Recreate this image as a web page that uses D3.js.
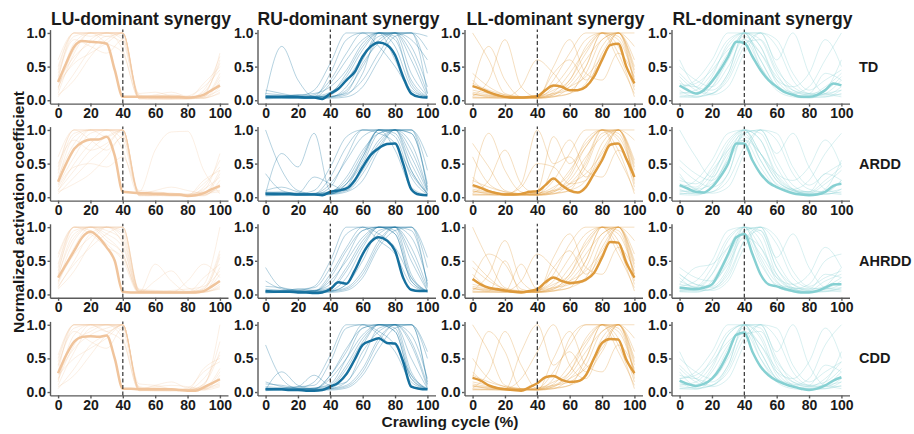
<!DOCTYPE html>
<html lang="en">
<head>
<meta charset="utf-8" />
<title>Normalized activation coefficient of synergies</title>
<style>
html, body { margin: 0; padding: 0; background: #fff; }
svg text { font-family: "Liberation Sans", Arial, sans-serif; font-weight: bold; fill: #1a1a1a; }
.axis path, .axis line { stroke: #5a5a5a; stroke-width: 1.4; }
.axis text { font-size: 14px; }
</style>
</head>
<body>
<svg id="chart" width="914" height="434"></svg>
<script src="https://cdnjs.cloudflare.com/ajax/libs/d3/7.8.5/d3.min.js"></script>
<script>

// crawling cycle (%) sample points
var cycleMean  = [0,5,10,15,20,25,30,35,40,45,50,55,60,65,70,75,80,85,90,95,100];
var cycleTrial = [0,10,20,30,40,50,60,70,80,90,100];
var xTicks = [0,20,40,60,80,100];
var yTicks = [0,50,100];
var phaseSplit = 40;

var synergies = ["LU-dominant synergy", "RU-dominant synergy", "LL-dominant synergy", "RL-dominant synergy"];
var groups = ["TD", "ARDD", "AHRDD", "CDD"];
var synergyColors = ["#F0C49C", "#16709E", "#DE9A3C", "#86D0D2"];

// activation coefficient x100
// ---- mean curves (every 5 %)
var meanLU_TD    = [27,55,80,88,87,86,84,45,5,5,5,5,5,5,5,5,4,5,8,15,22];
var meanLU_ARDD  = [23,50,72,82,86,86,90,62,8,7,6,6,5,5,4,4,2,3,6,12,17];
var meanLU_AHRDD = [25,45,65,85,93,85,70,50,4,3,3,3,3,3,3,3,3,3,5,12,20];
var meanLU_CDD   = [28,55,75,82,83,82,84,50,5,5,4,4,4,4,4,3,2,2,7,13,19];

var meanRU_TD    = [5,5,5,5,5,4,4,2,10,17,30,42,65,80,86,82,67,35,10,5,4];
var meanRU_ARDD  = [5,5,5,5,4,4,4,3,8,10,13,25,45,63,73,79,80,50,12,4,3];
var meanRU_AHRDD = [5,4,4,4,3,3,2,3,8,18,16,35,60,78,85,80,65,25,7,5,5];
var meanRU_CDD   = [4,4,4,3,3,2,2,3,8,14,27,48,70,76,80,73,72,45,8,5,4];

var meanLL_TD    = [21,17,12,8,5,4,4,5,6,15,22,20,15,15,20,35,60,82,84,50,25];
var meanLL_ARDD  = [18,14,9,6,4,4,5,8,9,18,28,18,10,7,15,35,55,78,80,57,30];
var meanLL_AHRDD = [23,15,10,8,6,4,3,5,8,18,25,20,17,18,22,32,55,78,77,47,25];
var meanLL_CDD   = [21,17,10,6,4,3,2,7,13,22,24,18,15,16,25,50,73,79,78,48,28];

var meanRL_TD    = [22,15,10,15,28,45,65,87,85,65,45,30,20,12,8,5,5,8,15,25,22];
var meanRL_ARDD  = [18,13,8,7,15,30,50,80,80,55,35,22,15,10,6,4,3,4,8,17,20];
var meanRL_AHRDD = [10,9,8,10,15,35,60,85,90,60,30,15,12,8,5,3,3,5,10,15,15];
var meanRL_CDD   = [17,12,9,12,20,35,58,85,88,60,38,25,17,12,8,5,3,5,10,17,22];

// ---- single-trial curves (every 10 %)
var trialsLU_TD = [
  [30,100,100,100,100,3,2,2,2,5,40], [10,70,100,100,90,5,4,3,3,8,70],
  [45,100,100,95,100,2,3,5,3,3,20], [20,60,90,100,100,8,5,4,4,12,55],
  [5,40,75,95,85,4,6,8,5,4,10], [60,100,100,100,75,3,2,2,2,15,65],
  [15,85,100,100,100,6,3,3,3,3,30], [35,90,80,70,90,10,12,6,4,8,25],
  [25,55,70,85,100,4,4,3,6,20,45], [50,100,95,100,100,2,2,2,2,5,15],
  [8,30,65,90,100,5,8,12,6,6,35], [40,95,100,85,70,3,5,4,3,10,60],
  [18,75,100,100,95,7,3,2,4,3,12], [28,65,85,100,100,4,6,5,3,25,50]
];
var trialsLU_ARDD = [
  [25,90,100,100,100,4,3,3,2,6,40], [10,50,80,100,100,6,5,4,3,10,65],
  [40,100,100,90,100,3,4,3,3,4,15], [5,30,55,75,100,8,6,5,4,12,30],
  [20,70,100,100,95,5,3,2,2,3,20], [60,100,85,70,90,2,3,6,4,20,45],
  [15,45,50,45,60,10,8,6,5,8,10], [30,80,100,100,100,3,2,3,3,5,35],
  [8,20,35,60,90,5,10,15,10,6,8], [45,100,100,100,85,4,3,2,2,2,25],
  [10,40,70,90,100,8,70,97,98,40,5], [35,95,100,100,70,3,4,4,3,15,55],
  [18,60,95,100,100,6,4,3,2,3,18], [50,85,70,80,100,5,6,4,3,25,40]
];
var trialsLU_AHRDD = [
  [30,100,100,90,70,4,3,2,2,5,30], [15,70,100,100,95,6,4,3,3,8,55],
  [45,100,100,80,60,3,20,35,10,4,15], [10,50,90,100,100,5,5,4,4,15,100],
  [25,90,100,100,85,4,3,3,20,45,25], [55,100,95,75,50,2,2,2,2,3,10],
  [20,60,85,100,100,8,6,5,5,6,40], [35,95,100,95,80,3,45,20,4,5,20],
  [8,35,75,100,100,6,4,3,3,10,65], [40,100,100,85,60,4,3,2,2,3,12],
  [18,80,100,100,90,5,4,6,8,12,35], [60,100,90,70,55,3,3,3,3,25,45],
  [12,45,70,90,100,7,5,4,3,4,8], [28,85,100,100,75,4,3,3,3,8,60]
];
var trialsLU_CDD = [
  [30,100,100,100,100,3,2,2,2,5,35], [10,60,95,100,100,5,6,5,3,10,100],
  [45,100,100,90,100,2,3,4,3,4,15], [20,75,90,100,95,8,5,4,4,20,55],
  [5,35,70,85,100,4,10,15,6,5,10], [55,100,100,100,80,3,2,2,2,12,75],
  [15,85,100,100,100,6,3,3,3,3,25], [38,90,75,65,95,12,10,5,4,8,20],
  [25,50,65,80,100,4,4,3,6,30,45], [50,100,100,100,90,2,2,2,2,6,12],
  [8,25,55,85,100,6,8,10,8,5,30], [40,95,100,90,75,3,5,4,3,12,60],
  [18,70,100,100,100,7,3,2,4,3,8], [28,65,85,95,100,4,6,5,3,35,50]
];

var trialsRU_TD = [
  [5,3,3,4,10,40,80,100,100,60,5], [8,80,30,5,5,20,60,100,90,30,5],
  [3,4,5,8,30,70,100,100,100,100,75], [6,5,4,3,5,15,50,90,100,70,10],
  [4,6,8,10,20,45,85,100,80,20,4], [10,8,5,4,6,10,30,70,100,100,95],
  [3,3,4,5,40,90,100,100,60,10,3], [5,4,3,3,4,8,40,100,100,80,20],
  [15,10,6,5,8,30,65,95,100,40,6], [4,5,6,15,55,100,100,80,50,15,5],
  [6,4,3,3,3,5,20,60,95,100,40], [2,3,3,4,25,60,90,100,100,90,60],
  [7,6,5,6,12,35,75,100,95,25,5], [3,5,8,6,5,12,55,85,100,100,10]
];
var trialsRU_ARDD = [
  [100,40,10,5,5,20,60,100,100,40,5], [5,65,45,95,10,20,50,95,100,50,5],
  [4,5,6,4,5,15,60,100,100,95,15], [6,4,3,5,20,55,90,100,90,30,4],
  [3,3,4,6,8,30,70,95,100,80,10], [8,6,5,4,5,10,40,80,100,100,40],
  [3,4,5,10,45,90,100,100,70,15,3], [5,5,4,3,4,8,25,70,100,95,20],
  [10,15,8,5,8,25,65,100,95,40,6], [4,3,3,4,15,60,100,100,100,100,60],
  [6,5,5,5,6,12,45,85,100,60,8], [2,3,4,5,30,75,100,95,80,35,5],
  [7,8,6,30,20,10,35,75,100,100,12], [35,10,5,4,5,20,55,100,100,70,10]
];
var trialsRU_AHRDD = [
  [40,10,5,4,6,25,70,100,100,50,5], [5,4,5,5,30,70,100,100,90,20,4],
  [3,3,4,6,15,55,95,100,100,60,6], [6,5,4,3,5,15,50,95,100,95,15],
  [4,6,8,10,40,90,100,80,60,15,4], [8,6,5,4,5,10,35,80,100,100,40],
  [3,3,4,5,20,50,85,100,100,30,3], [5,4,3,3,4,8,30,75,100,85,20],
  [12,10,6,5,8,35,75,100,90,20,5], [4,5,6,12,50,100,100,90,70,25,5],
  [6,4,3,3,3,6,25,70,95,100,55], [2,3,3,4,25,65,95,100,100,70,10],
  [20,8,5,6,10,40,80,100,95,25,5], [3,5,8,6,5,15,60,90,100,100,12]
];
var trialsRU_CDD = [
  [70,20,5,4,6,25,70,100,100,50,5], [5,4,5,5,25,60,100,100,90,20,4],
  [3,3,4,6,12,50,95,100,100,70,6], [6,5,4,3,5,15,50,95,100,100,15],
  [4,6,8,10,45,95,100,85,60,15,4], [8,6,5,4,5,10,35,80,100,100,60],
  [3,30,10,5,20,50,85,100,100,30,3], [5,4,3,3,4,8,30,75,100,85,20],
  [12,10,6,5,8,35,75,100,90,20,5], [4,5,6,15,55,100,100,90,70,25,5],
  [6,4,3,3,3,6,25,65,95,100,50], [2,3,3,4,25,65,95,100,100,75,10],
  [15,8,5,6,10,40,80,100,95,25,5], [3,5,8,25,10,15,60,90,100,100,12]
];

var trialsLL_TD = [
  [100,60,10,5,3,5,20,50,100,90,30], [20,80,30,5,4,8,30,70,100,100,60],
  [10,5,4,3,5,40,60,30,60,100,40], [5,4,3,4,6,10,15,40,90,100,20],
  [30,10,5,3,4,20,50,90,100,60,10], [8,6,5,20,60,40,15,20,70,100,80],
  [15,10,4,3,3,5,10,25,80,100,50], [4,3,3,3,5,30,70,100,100,80,15],
  [25,15,8,5,4,6,10,50,100,95,25], [6,30,90,20,5,10,25,60,90,100,100],
  [12,8,6,4,3,50,90,40,30,70,35], [3,4,5,5,6,15,30,80,100,70,5],
  [40,20,8,4,3,8,20,35,65,100,45], [9,7,5,4,4,12,40,75,100,100,30]
];
var trialsLL_ARDD = [
  [80,45,10,5,3,5,20,50,100,90,30], [20,95,40,8,4,8,30,75,100,100,55],
  [10,5,4,20,100,50,60,30,60,100,40], [5,4,3,4,6,10,15,45,95,100,20],
  [30,10,5,3,10,90,50,80,100,60,10], [8,6,5,15,50,45,20,25,70,100,85],
  [15,10,4,3,3,5,10,25,80,100,50], [4,3,3,3,5,25,65,100,100,85,15],
  [25,15,8,5,4,6,10,55,100,95,25], [6,25,70,20,5,10,25,60,90,100,100],
  [12,8,6,4,3,45,85,40,30,70,35], [3,4,5,5,6,15,35,85,100,70,5],
  [60,20,8,4,3,8,20,35,65,100,45], [9,7,5,4,4,12,40,75,100,100,30]
];
var trialsLL_AHRDD = [
  [100,50,10,5,3,5,20,50,100,90,30], [20,60,45,8,4,8,30,70,100,100,60],
  [10,5,50,3,5,40,65,30,60,100,40], [5,4,3,4,6,10,15,40,90,100,20],
  [30,10,5,45,8,20,55,90,100,60,10], [8,6,5,20,60,40,15,20,70,100,80],
  [15,10,4,3,3,5,10,25,80,100,50], [4,3,3,3,5,30,75,100,100,80,15],
  [50,25,8,5,4,6,10,50,100,95,25], [6,30,80,20,5,10,25,60,90,100,100],
  [12,8,6,4,3,55,90,40,30,70,35], [3,4,5,5,6,15,30,80,100,70,5],
  [40,20,8,4,3,8,20,35,65,100,45], [9,7,5,4,4,12,40,75,100,100,30]
];
var trialsLL_CDD = [
  [100,60,10,5,3,5,20,50,100,90,30], [20,90,60,5,4,8,30,70,100,100,60],
  [10,5,4,60,100,40,60,30,60,100,40], [5,4,3,4,6,10,15,40,90,100,20],
  [30,10,5,3,4,20,80,100,100,60,10], [8,6,5,20,60,100,40,20,70,100,80],
  [15,10,4,3,3,5,10,25,80,100,50], [4,3,3,3,5,30,70,100,100,80,15],
  [25,15,8,5,4,6,10,50,100,95,25], [6,30,90,40,5,10,25,60,90,100,100],
  [12,8,6,4,3,50,90,40,30,70,35], [3,4,5,5,6,15,30,80,100,70,5],
  [50,20,8,4,3,8,20,35,65,100,45], [9,7,5,4,4,12,40,75,100,100,30]
];

var trialsRL_TD = [
  [20,30,60,100,100,60,20,8,5,10,30], [10,15,40,80,100,90,40,10,4,5,15],
  [30,10,20,60,100,100,50,15,8,20,40], [5,8,30,70,95,70,30,20,40,90,50],
  [40,20,15,40,100,80,30,10,5,5,10], [15,5,10,30,80,100,80,30,10,8,20],
  [25,20,50,90,100,50,15,5,3,15,60], [8,6,10,40,100,100,60,100,40,10,8],
  [50,30,20,50,90,70,35,15,10,40,30], [12,10,35,85,100,80,25,8,6,8,5],
  [35,15,8,20,70,100,90,40,15,30,45], [5,4,20,65,100,60,20,10,20,60,100],
  [20,25,45,75,90,50,20,12,8,10,15], [60,20,10,35,85,90,45,20,10,15,35]
];
var trialsRL_ARDD = [
  [15,25,55,95,100,65,25,10,5,8,25], [8,12,35,75,100,95,45,12,4,4,12],
  [35,12,20,55,95,100,55,18,8,25,45], [5,8,25,65,90,65,35,25,45,85,45],
  [45,25,15,35,100,85,35,12,5,5,8], [12,5,8,25,75,100,85,35,12,8,25],
  [20,15,45,85,100,55,18,6,3,12,55], [6,5,8,35,95,100,65,95,45,12,6],
  [55,35,25,55,85,65,30,12,8,35,25], [10,8,30,80,100,85,30,10,6,6,4],
  [30,12,6,15,65,100,95,45,18,35,50], [4,3,15,60,100,65,25,12,25,65,95],
  [100,60,30,70,95,55,20,10,8,8,12], [25,20,40,70,85,45,15,8,6,20,40]
];
var trialsRL_AHRDD = [
  [12,20,50,95,100,70,25,8,4,8,20], [6,10,30,70,100,95,40,10,3,4,10],
  [25,10,15,50,95,100,50,15,6,20,30], [5,6,20,60,90,60,25,15,30,70,40],
  [30,15,12,40,100,90,30,8,4,5,8], [10,5,8,25,80,100,75,25,10,8,15],
  [15,12,40,85,100,50,12,4,3,12,40], [5,5,8,35,95,100,55,90,40,10,6],
  [40,25,20,45,85,70,30,10,8,30,25], [8,8,30,80,100,80,20,6,5,5,4],
  [20,10,6,20,70,100,85,35,12,25,35], [4,3,15,55,100,55,18,8,15,50,60],
  [15,40,45,70,90,45,15,10,6,8,10], [30,15,10,30,80,95,40,15,8,12,25]
];
var trialsRL_CDD = [
  [20,30,60,100,100,60,20,8,5,10,30], [10,15,40,85,100,95,40,10,4,5,15],
  [30,10,20,60,100,100,50,15,8,20,45], [5,8,30,70,95,70,30,20,45,95,50],
  [40,20,15,40,100,85,30,10,5,5,10], [15,5,10,30,80,100,80,30,10,8,20],
  [25,20,50,90,100,50,15,5,3,15,60], [8,6,10,40,100,100,60,100,40,10,8],
  [50,30,20,50,90,70,35,15,10,40,30], [12,10,35,85,100,80,25,8,6,8,5],
  [35,15,8,20,70,100,95,40,15,30,45], [5,4,20,65,100,60,20,10,20,70,100],
  [20,25,45,75,90,50,20,12,8,10,15], [60,20,10,35,85,90,45,20,10,15,35]
];

// rows = groups, cols = synergies
var meanTable = [
  [meanLU_TD, meanRU_TD, meanLL_TD, meanRL_TD],
  [meanLU_ARDD, meanRU_ARDD, meanLL_ARDD, meanRL_ARDD],
  [meanLU_AHRDD, meanRU_AHRDD, meanLL_AHRDD, meanRL_AHRDD],
  [meanLU_CDD, meanRU_CDD, meanLL_CDD, meanRL_CDD]
];
var trialTable = [
  [trialsLU_TD, trialsRU_TD, trialsLL_TD, trialsRL_TD],
  [trialsLU_ARDD, trialsRU_ARDD, trialsLL_ARDD, trialsRL_ARDD],
  [trialsLU_AHRDD, trialsRU_AHRDD, trialsLL_AHRDD, trialsRL_AHRDD],
  [trialsLU_CDD, trialsRU_CDD, trialsLL_CDD, trialsRL_CDD]
];

var svg = d3.select("#chart");

// panel layout
var panelLeft = [50, 257.5, 464.5, 671.5];
var panelW = 178, panelH = 74;
var panelTop = [29.6, 126.6, 223.8, 321.4];
var trialOpacity = [0.35, 0.4, 0.4, 0.4];

groups.forEach(function(group, r) {
  synergies.forEach(function(syn, c) {
    var left = panelLeft[c], top = panelTop[r];
    var x = d3.scaleLinear().domain([-5, 105]).range([left, left + panelW]);
    var y = d3.scaleLinear().domain([-5, 105]).range([top + panelH, top]);
    var col = synergyColors[c];
    var g = svg.append("g").attr("class", "panel");

    var trialLine = d3.line()
      .x(function(d, i) { return x(cycleTrial[i]); })
      .y(function(d) { return y(d); })
      .curve(d3.curveMonotoneX);
    var meanLine = d3.line()
      .x(function(d, i) { return x(cycleMean[i]); })
      .y(function(d) { return y(d); })
      .curve(d3.curveMonotoneX);

    g.selectAll("path.trial")
      .data(trialTable[r][c])
      .enter()
      .append("path")
      .attr("class", "trial")
      .attr("d", trialLine)
      .attr("fill", "none")
      .attr("stroke", col)
      .attr("stroke-width", 0.8)
      .attr("stroke-opacity", trialOpacity[c]);

    g.append("path")
      .attr("d", meanLine(meanTable[r][c]))
      .attr("fill", "none")
      .attr("stroke", col)
      .attr("stroke-width", 2.5)
      .attr("stroke-linejoin", "round");

    g.append("line")
      .attr("x1", x(phaseSplit)).attr("x2", x(phaseSplit))
      .attr("y1", y(-5)).attr("y2", y(105))
      .attr("stroke", "#333")
      .attr("stroke-width", 1.2)
      .attr("stroke-dasharray", "4,2.5");

    g.append("g")
      .attr("class", "axis")
      .attr("transform", "translate(0," + (top + panelH) + ")")
      .call(d3.axisBottom(x).tickValues(xTicks).tickSize(3).tickPadding(1.5).tickSizeOuter(0));

    g.append("g")
      .attr("class", "axis")
      .attr("transform", "translate(" + left + ",0)")
      .call(d3.axisLeft(y).tickValues(yTicks)
        .tickFormat(function(v) { return (v / 100).toFixed(1); })
        .tickSize(2.5).tickPadding(1.5).tickSizeOuter(0));

    if (r === 0) {
      svg.append("text")
        .attr("x", left + panelW / 2 + 2)
        .attr("y", 25)
        .attr("text-anchor", "middle")
        .style("font-size", "17.5px")
        .text(syn);
    }
  });

  svg.append("text")
    .attr("x", 859)
    .attr("y", panelTop[r] + panelH / 2)
    .attr("dy", "0.35em")
    .style("font-size", "14.5px")
    .text(group);
});

// axis titles
svg.append("text")
  .attr("transform", "translate(24,212) rotate(-90)")
  .attr("text-anchor", "middle")
  .style("font-size", "15.5px")
  .text("Normalized activation coefficient");

svg.append("text")
  .attr("x", 450)
  .attr("y", 427)
  .attr("text-anchor", "middle")
  .style("font-size", "15.5px")
  .text("Crawling cycle (%)");

</script>
</body>
</html>
